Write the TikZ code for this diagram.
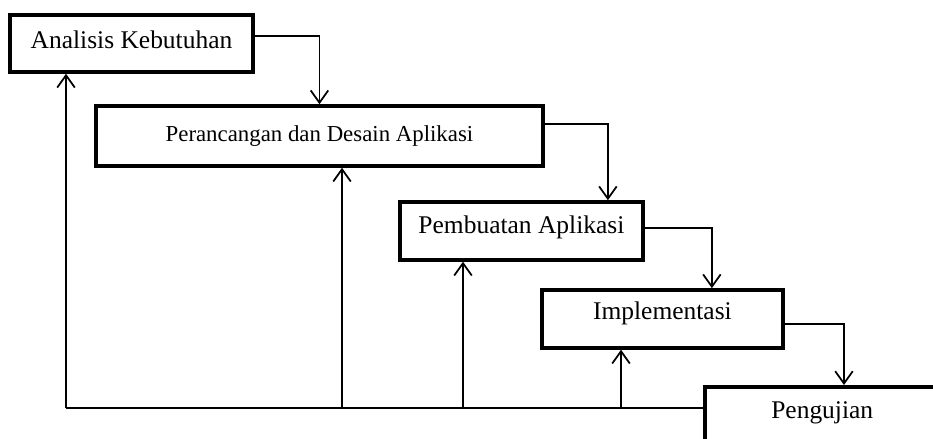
\documentclass[tikz,border=0pt]{standalone}
\usepackage{fontspec}
\setmainfont{Liberation Serif}
\usetikzlibrary{positioning,arrows.meta}
\tikzset{
	fase/.style={draw, line width=2pt, inner sep=2pt, font=\fontsize{14.5}{16}\selectfont},
	alur/.style={->, line width=1pt}
}

\begin{document}
\begin{tikzpicture}[x=0.02cm,y=-0.02cm,on grid,>={Straight Barb[length=7pt,width=10pt]}]
\useasboundingbox (0,0) rectangle (933,439);
\node[fase,minimum width=4.86cm,minimum height=1.14cm,text depth=4pt]									(analisis)		at (131.5,43.5)									{Analisis Kebutuhan};
\node[fase,minimum width=8.94cm,minimum height=1.2cm,font=\fontsize{13}{15}\selectfont]					(desain)		[below right=1.85cm and 3.76cm of analisis]		{Perancangan dan Desain Aplikasi};
\node[fase,minimum width=4.86cm,minimum height=1.16cm,text depth=7.5pt]									(pembuatan)		[below right=1.9cm and 4.04cm of desain]		{Pembuatan Aplikasi};
\node[fase,minimum width=4.82cm,minimum height=1.16cm,text depth=10pt]									(implementasi)	[below right=1.76cm and 2.82cm of pembuatan]	{Implementasi};
\node[fase,anchor=north west,inner xsep=0pt,inner ysep=5pt,text width=4.7cm,align=center,text height=13pt,text depth=30pt]	(pengujian)	at (703,385)	{Pengujian};

\coordinate (f1) at (66,408);
\coordinate (f2) at (342,408);
\coordinate (f3) at (463,408);
\coordinate (f4) at (621,408);

\draw[alur]	([yshift=0.15cm]analisis.east)		-| (desain);
\draw[alur]	([yshift=0.24cm]desain.east)		-| ([xshift=1.73cm]pembuatan.north);
\draw[alur]	([yshift=0.06cm]pembuatan.east)		-| ([xshift=0.99cm]implementasi.north);
\draw[alur]	([yshift=-0.1cm]implementasi.east)	-| ([xshift=2.82cm]pengujian.north west);

\draw[line width=1pt]	(pengujian.west |- f1)	-- (f1);
\draw[alur]	(f1)	-- (f1 |- analisis.south);
\draw[alur]	(f2)	-- (f2 |- desain.south);
\draw[alur]	(f3)	-- (f3 |- pembuatan.south);
\draw[alur]	(f4)	-- (f4 |- implementasi.south);
\end{tikzpicture}
\end{document}
